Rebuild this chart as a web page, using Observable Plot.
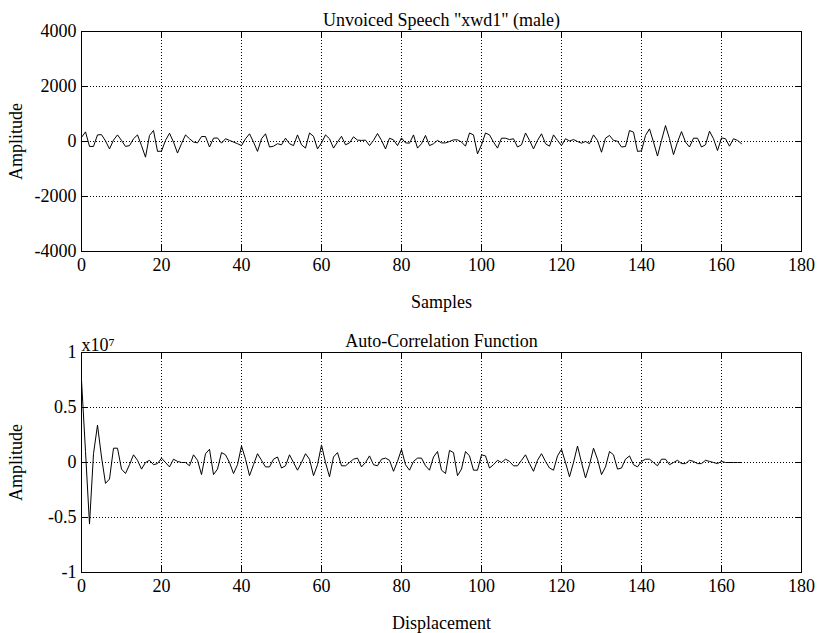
<!DOCTYPE html>
<html><head><meta charset="utf-8">
<script src="https://cdn.jsdelivr.net/npm/d3@7"></script>
<script src="https://cdn.jsdelivr.net/npm/@observablehq/plot@0.6"></script>
<style>
body{margin:0;background:#fff;}
#c{width:819px;height:633px;overflow:hidden;}
#c svg{display:block;}
</style></head><body><div id="c"></div>
<script>
// Top panel: unvoiced speech samples (amplitude)
const speech = [150,350,-180,-180,240,250,20,-270,50,240,
40,-180,-150,100,240,-150,-570,220,400,-360,
-350,40,300,-20,-420,-80,240,100,-20,-50,
180,180,-200,120,130,-60,100,40,-20,-80,
-150,100,280,-20,-360,100,280,-200,-170,-80,
-120,120,-80,-150,240,-120,-240,310,190,-270,
-50,240,100,-240,-20,190,-120,-50,170,50,
40,50,-150,40,290,40,-270,120,60,-150,
130,-50,-60,240,-240,-80,220,-150,-80,40,
-50,-50,0,60,60,-20,-170,310,240,-450,
-120,310,240,-20,-240,120,120,70,100,-200,
-120,310,40,-270,40,280,-80,-170,240,40,
-150,100,20,70,0,-60,0,-80,240,40,
-390,120,220,40,10,-200,-180,400,340,-360,
-340,220,460,-20,-530,40,580,100,-480,-20,
360,-20,-200,120,120,-200,-120,375,100,-330,
130,100,-170,100,40,-80];
// Bottom panel: auto-correlation (in units of 10^7)
const acf = [0.75,0.1,-0.56,0.08,0.34,0.05,-0.19,-0.15,0.13,0.13,
-0.06,-0.1,-0.02,0.07,0.02,-0.06,0,0.02,-0.02,-0.01,
0.04,0,-0.04,0.03,0.01,0,0,-0.03,0.07,0.02,
-0.11,0.08,0.12,-0.11,-0.06,0.09,0.07,0,-0.1,-0.02,
0.15,0.03,-0.12,-0.02,0.08,0.02,-0.04,-0.04,0.03,0.05,
-0.05,-0.03,0.07,0,-0.07,0,0.08,0.03,-0.12,-0.02,
0.16,0,-0.13,0.05,0.09,-0.03,-0.03,0,0.03,0.04,
-0.04,0,0.06,-0.02,-0.03,0.03,0.04,0.02,-0.08,0.01,
0.12,-0.02,-0.07,0.01,0.04,0.04,-0.03,-0.07,0.05,0.1,
-0.07,-0.1,0.11,0.09,-0.12,-0.06,0.1,0.06,-0.07,-0.07,
0.07,0.06,-0.05,-0.02,0.02,0,0.03,0.01,-0.03,-0.03,
0.02,0.07,-0.01,-0.08,0.02,0.08,0.01,-0.05,-0.07,0.06,
0.12,0,-0.13,0,0.15,0,-0.14,-0.02,0.13,0.03,
-0.11,-0.04,0.1,0.07,-0.06,-0.05,0.03,0.06,-0.02,-0.04,
0.01,0.03,0.03,0,-0.03,0.03,0.03,-0.02,0,0.02,
-0.01,-0.01,0.02,0.01,-0.01,-0.01,0.02,0.01,0,-0.01,
0.01,0,0,0,0,0];

const xTicks = [0,20,40,60,80,100,120,140,160,180];
const speechTicks = [-4000,-2000,0,2000,4000];
const acfTicks = [-1,-0.5,0,0.5,1];
const topTitle = 'Unvoiced Speech "xwd1" (male)';
const bottomTitle = "Auto-Correlation Function";
const topXLabel = "Samples";
const bottomXLabel = "Displacement";
const yLabel = "Amplitude";
const acfExponent = "x10\u2077";

const FONT = "'Liberation Serif', 'Times New Roman', serif";
const W = 819, ML = 81, MR = 18, IW = W - ML - MR, IH = 220;

function panel({values, yTicks, title, xLabel, exponent, height, marginTop, yFormat}) {
  const pts = values.map((v, i) => ({i, v}));
  const marks = [
    Plot.gridX(xTicks, {stroke: "black", strokeOpacity: 1, strokeWidth: 1, strokeDasharray: "1,2"}),
    Plot.gridY(yTicks, {stroke: "black", strokeOpacity: 1, strokeWidth: 1, strokeDasharray: "1,2"}),
    Plot.line(pts, {x: "i", y: "v", stroke: "black", strokeWidth: 1}),
    Plot.tickX(xTicks, {x: d => d, stroke: "black", insetTop: IH - 6}),
    Plot.tickX(xTicks, {x: d => d, stroke: "black", insetBottom: IH - 6}),
    Plot.tickY(yTicks, {y: d => d, stroke: "black", insetRight: IW - 6}),
    Plot.tickY(yTicks, {y: d => d, stroke: "black", insetLeft: IW - 6}),
    Plot.frame({stroke: "black", strokeWidth: 1}),
    Plot.axisX(xTicks, {anchor: "bottom", tickSize: 0, tickPadding: 7, label: xLabel, labelAnchor: "center", labelOffset: 56, labelArrow: "none"}),
    Plot.axisY(yTicks, {anchor: "left", tickSize: 0, tickPadding: 5, tickFormat: yFormat, label: yLabel, labelAnchor: "center", labelOffset: 72, labelArrow: "none"}),
    Plot.text([title], {text: d => d, frameAnchor: "top", lineAnchor: "bottom", dy: -6, fill: "black"})
  ];
  if (exponent) marks.push(Plot.text([exponent], {text: d => d, frameAnchor: "top-left", textAnchor: "start", lineAnchor: "bottom", dy: -2, fill: "black"}));
  return Plot.plot({
    width: W, height, marginLeft: ML, marginRight: MR, marginTop, marginBottom: height - marginTop - IH,
    style: {fontFamily: FONT, fontSize: "18px", background: "white", color: "black", overflow: "visible"},
    x: {domain: [0, 180]},
    y: {domain: [yTicks[0], yTicks[yTicks.length - 1]]},
    marks
  });
}

const c = document.getElementById("c");
c.append(panel({values: speech, yTicks: speechTicks, title: topTitle, xLabel: topXLabel, height: 316, marginTop: 31, yFormat: d => String(d)}));
c.append(panel({values: acf, yTicks: acfTicks, title: bottomTitle, xLabel: bottomXLabel, exponent: acfExponent, height: 317, marginTop: 36, yFormat: d => String(d)}));
</script></body></html>
